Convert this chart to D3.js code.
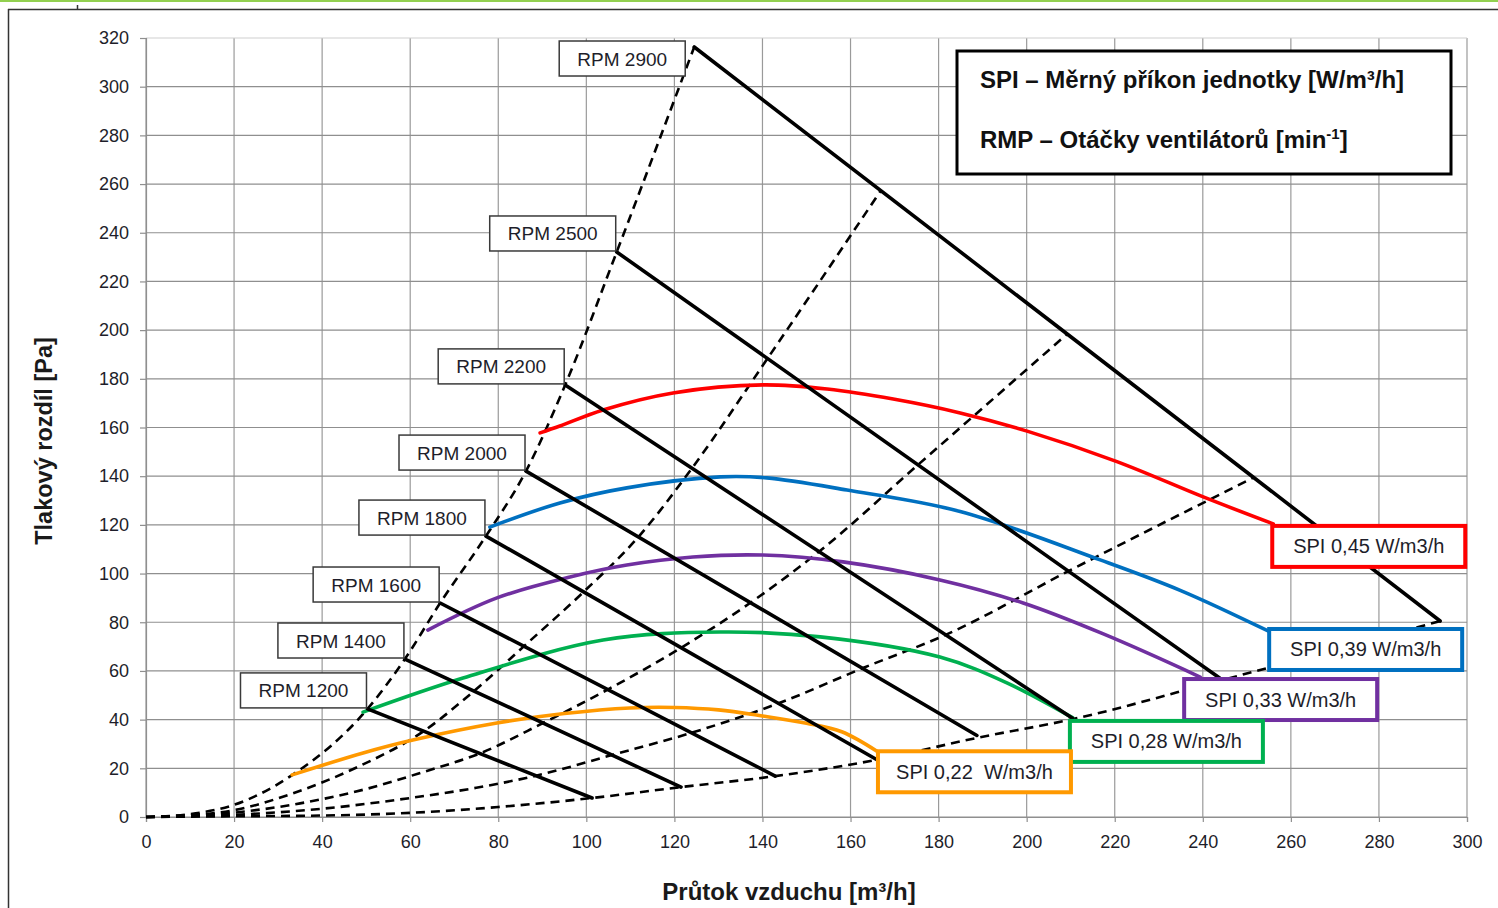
<!DOCTYPE html>
<html><head><meta charset="utf-8">
<script src="https://cdn.jsdelivr.net/npm/d3@7"></script>
<style>body{margin:0;background:#fff;} svg{display:block;}</style>
</head><body>
<svg id="c" width="1498" height="908"></svg>
<script>
// ---------- DATA ----------
const xTickValues = [0,20,40,60,80,100,120,140,160,180,200,220,240,260,280,300];
const yTickValues = [0,20,40,60,80,100,120,140,160,180,200,220,240,260,280,300,320];

// RPM lines (fan speed): start point on the steep system curve, end point on the flat one
const rpmNames = ["RPM 1200","RPM 1400","RPM 1600","RPM 1800","RPM 2000","RPM 2200","RPM 2500","RPM 2900"];
const rpmStart = [[50.3,44.4],[58.8,64.9],[66.8,87.9],[77.2,115.4],[86.3,142.1],[95.2,177.5],[106.9,232.1],[124.5,316.3]];
const rpmEnd   = [[101.3,7.8],[121.5,12.3],[142.9,16.8],[166,23.5],[188.7,33.5],[210.5,40.5],[243.9,57],[293.9,80.5]];

// dashed system curves
const sys1 = [[0,0],[10,1.2],[20,5],[33,17],[50.3,44.4],[58.8,64.9],[66.8,87.9],[77.2,115.4],[86.3,142.1],[95.2,177.5],[106.9,232.1],[124.5,316.3]];
const sys2 = [[0,0],[10,0.7],[20,2.8],[33,9.5],[48,20.5],[63.05,35.25],[74.5,51.75],[85.8,70.1],[99.4,92.5],[111.9,115.2],[124.0,143.3],[141.2,188.5],[166.9,257.4]];
const sys3 = [[0,0],[20,1.8],[35,5.6],[50,11.5],[63,18.5],[75.8,26.1],[90.15,38.6],[104.85,52.35],[121.6,69.6],[137.5,88.3],[152.9,109.1],[175.4,144.8],[209.2,198.4]];
const sys4 = [[0,0],[20,0.9],[40,3.4],[60,7.8],[75,12],[88.55,16.95],[105.8,25.45],[123.9,34.6],[143.8,46.8],[163.1,61.4],[181.7,74.9],[209.7,101.2],[251.6,139.5]];
const sys5 = [[0,0],[20,0.3],[40,0.6],[60,1.7],[80,4.1],[101.3,7.8],[121.5,12.3],[142.9,16.8],[166,23.5],[188.7,32.5],[210.5,40.2],[243.9,56],[293.9,80.5]];

// SPI curves
const spiNames  = ["SPI 0,45 W/m3/h","SPI 0,39 W/m3/h","SPI 0,33 W/m3/h","SPI 0,28 W/m3/h","SPI 0,22  W/m3/h"];
const spiColors = ["#ff0000","#0070c0","#7030a0","#00b050","#ff9900"];
const spi045 = [[89.5,157.8],[94,160.6],[103.8,167.2],[119.7,174.2],[140.1,177.5],[154.7,175.8],[169.7,171.7],[184.9,166],[200.1,158.5],[220.5,146],[240.1,131.5],[256,120.4]];
const spi039 = [[78.1,119.1],[94,129],[109.2,135.2],[130.4,139.7],[141,139.3],[159.2,134.3],[184.9,125.5],[216.7,105.6],[235,93],[255.3,76]];
const spi033 = [[64,76.8],[79.7,90],[96.3,98.6],[109.2,103.5],[124.2,106.8],[140.1,107.6],[158.3,104.8],[180.3,97.4],[199.2,87.9],[217,75.5],[239.4,57.5]];
const spi028 = [[49.3,43.1],[72,57.1],[103.8,72.7],[130.4,76],[153.1,74],[180.3,65.7],[195.5,55.1],[210.5,40.7]];
const spi022 = [[33.2,17.3],[49.3,26.3],[60.6,31.6],[79.7,38.6],[95,42.5],[109.9,44.8],[120,45],[130,44],[140,41.5],[150,38.5],[158,35],[166,27]];

// ---------- LAYOUT ----------
const svg = d3.select("#c");
const x = d3.scaleLinear().domain([0,300]).range([146,1467]);
const y = d3.scaleLinear().domain([0,320]).range([817,38]);
const FONT = "'Liberation Sans', Arial, sans-serif";

// page frame
svg.append("rect").attr("x",0).attr("y",0).attr("width",1498).attr("height",2).attr("fill","#92d050");
svg.append("line").attr("x1",8).attr("x2",1498).attr("y1",9.5).attr("y2",9.5).attr("stroke","#333").attr("stroke-width",1.5);
svg.append("line").attr("x1",8.5).attr("x2",8.5).attr("y1",9).attr("y2",908).attr("stroke","#333").attr("stroke-width",1.5);
svg.append("line").attr("x1",77.5).attr("x2",77.5).attr("y1",5).attr("y2",10).attr("stroke","#333").attr("stroke-width",1.5);

// grid
const grid = svg.append("g");
grid.selectAll("line.v").data(xTickValues).join("line")
  .attr("x1",d=>x(d)).attr("x2",d=>x(d)).attr("y1",y(320)).attr("y2",y(0))
  .attr("stroke","#9a9a9a").attr("stroke-width",1.2);
grid.selectAll("line.h").data(yTickValues).join("line")
  .attr("x1",x(0)).attr("x2",x(300)).attr("y1",d=>y(d)).attr("y2",d=>y(d))
  .attr("stroke",d=>d===320?"#cfcfcf":"#8f8f8f").attr("stroke-width",1.2);

// axes
const xAxis = svg.append("g").attr("transform",`translate(0,${y(0)})`)
  .call(d3.axisBottom(x).tickValues(xTickValues).tickSize(5).tickPadding(13));
const yAxis = svg.append("g").attr("transform",`translate(${x(0)},0)`)
  .call(d3.axisLeft(y).tickValues(yTickValues).tickSize(6).tickPadding(11));
[xAxis,yAxis].forEach(a=>{
  a.select(".domain").attr("stroke","#8f8f8f").attr("stroke-width",1.2);
  a.selectAll(".tick line").attr("stroke","#8f8f8f").attr("stroke-width",1.2);
  a.selectAll("text").attr("font-family",FONT).attr("font-size",18).attr("fill","#1e1e2a");
});

// axis titles
svg.append("text").attr("transform","translate(52,441) rotate(-90)").attr("text-anchor","middle")
  .attr("font-family",FONT).attr("font-weight","bold").attr("font-size",23.5).attr("fill","#1a1a1a")
  .text("Tlakový rozdíl [Pa]");
svg.append("text").attr("x",789).attr("y",900).attr("text-anchor","middle")
  .attr("font-family",FONT).attr("font-weight","bold").attr("font-size",24).attr("fill","#1a1a1a")
  .text("Průtok vzduchu [m³/h]");

// dashed system curves
const smooth = d3.line().x(d=>x(d[0])).y(d=>y(d[1])).curve(d3.curveMonotoneX);
svg.append("g").selectAll("path").data([sys1,sys2,sys3,sys4,sys5]).join("path")
  .attr("d",smooth).attr("fill","none").attr("stroke","#000").attr("stroke-width",2.6)
  .attr("stroke-dasharray","9,6");

// SPI curves
const spiCurve = d3.line().x(d=>x(d[0])).y(d=>y(d[1])).curve(d3.curveCatmullRom.alpha(0.5));
const spiData = [spi045,spi039,spi033,spi028,spi022];
svg.append("g").selectAll("path").data(spiData).join("path")
  .attr("d",spiCurve).attr("fill","none").attr("stroke",(d,i)=>spiColors[i]).attr("stroke-width",3.6)
  .attr("stroke-linecap","round");

// RPM lines
const straight = d3.line().x(d=>x(d[0])).y(d=>y(d[1]));
svg.append("g").selectAll("path").data(rpmNames.map((n,i)=>[rpmStart[i],rpmEnd[i]])).join("path")
  .attr("d",straight).attr("fill","none").attr("stroke","#000").attr("stroke-width",3.6)
  .attr("stroke-linecap","round");

// RPM labels (box bottom-right anchored at line start)
const rpmNudge = {"RPM 2900":[-9,29]};
const rpmG = svg.append("g");
rpmNames.forEach((n,i)=>{
  const nd = rpmNudge[n] || [-1,-1];
  const bx = x(rpmStart[i][0]) + nd[0], by = y(rpmStart[i][1]) + nd[1];
  const w = 126, h = 35;
  rpmG.append("rect").attr("x",bx-w).attr("y",by-h).attr("width",w).attr("height",h)
    .attr("fill","#fff").attr("stroke","#3a3a3a").attr("stroke-width",1.5);
  rpmG.append("text").attr("x",bx-w/2).attr("y",by-h/2+7).attr("text-anchor","middle")
    .attr("font-family",FONT).attr("font-size",19).attr("fill","#1e1e2a").text(n);
});

// SPI labels (box top-left anchored at curve end)
const spiNudge = [[-1,2],[-1,-3],[-16,2],[-3,3],[1,0]];
const spiG = svg.append("g");
spiData.forEach((d,i)=>{
  const e = d[d.length-1];
  const bx = x(e[0]) + spiNudge[i][0], by = y(e[1]) + spiNudge[i][1];
  const w = 193, h = 41;
  spiG.append("rect").attr("x",bx).attr("y",by).attr("width",w).attr("height",h)
    .attr("fill","#fff").attr("stroke",spiColors[i]).attr("stroke-width",4);
  spiG.append("text").attr("x",bx+w/2).attr("y",by+h/2+7).attr("text-anchor","middle")
    .attr("font-family",FONT).attr("font-size",20).attr("fill","#1e1e2a")
    .style("white-space","pre").text(spiNames[i]);
});

// legend box
const lg = svg.append("g");
lg.append("rect").attr("x",957).attr("y",51).attr("width",494).attr("height",123)
  .attr("fill","#fff").attr("stroke","#000").attr("stroke-width",3);
lg.append("text").attr("x",980).attr("y",88).attr("font-family",FONT).attr("font-weight","bold")
  .attr("font-size",24).attr("fill","#111").text("SPI – Měrný příkon jednotky [W/m³/h]");
const t2 = lg.append("text").attr("x",980).attr("y",148).attr("font-family",FONT).attr("font-weight","bold")
  .attr("font-size",24).attr("fill","#111");
t2.append("tspan").text("RMP – Otáčky ventilátorů [min");
t2.append("tspan").attr("dy",-9).attr("font-size",15).text("-1");
t2.append("tspan").attr("dy",9).text("]");
</script>
</body></html>
